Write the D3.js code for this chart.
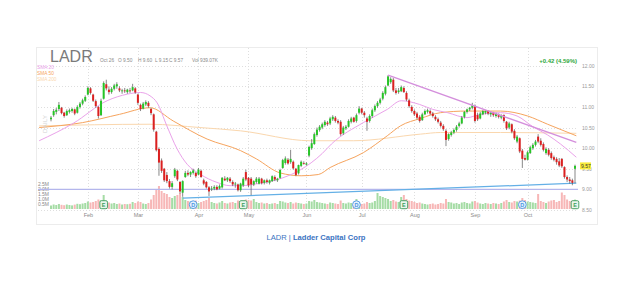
<!DOCTYPE html>
<html>
<head>
<meta charset="utf-8">
<script src="https://cdn.jsdelivr.net/npm/d3@7"></script>
<style>
  body { margin: 0; background: #fff; }
  svg text { font-family: Arial, "Liberation Sans", sans-serif; }
</style>
</head>
<body>
<div id="chart"></div>
<script>

// daily candles, [open, high, low, close], one row per trading day
var ohlc = [
	// Jan
	[10.70,10.78,10.65,10.74],[10.80,10.95,10.76,10.90],[10.88,10.98,10.82,10.93],[10.95,11.12,10.90,11.05],
	[10.98,11.00,10.82,10.85],[10.86,10.88,10.74,10.78],[10.80,10.94,10.78,10.90],[10.88,10.96,10.84,10.92],
	[10.90,10.98,10.86,10.95],[10.94,10.96,10.80,10.84],[10.86,11.04,10.84,11.00],[11.00,11.12,10.96,11.08],
	[11.08,11.20,11.04,11.16],[11.15,11.28,11.12,11.24],
	// Feb
	[11.30,11.50,11.28,11.46],[11.45,11.48,11.30,11.34],[11.30,11.32,11.12,11.15],[11.14,11.18,10.98,11.02],
	[11.00,11.02,10.72,10.78],[10.80,11.20,10.78,11.15],[11.20,11.62,11.18,11.58],[11.55,11.66,11.40,11.45],
	[11.42,11.50,11.30,11.36],[11.36,11.48,11.32,11.44],[11.44,11.56,11.40,11.52],[11.50,11.60,11.44,11.55],
	[11.45,11.50,11.36,11.40],[11.38,11.44,11.32,11.40],[11.40,11.46,11.34,11.38],[11.36,11.44,11.32,11.42],
	[11.40,11.46,11.34,11.38],[11.40,11.56,11.38,11.48],[11.45,11.48,11.32,11.35],
	// Mar
	[11.30,11.32,11.05,11.10],[11.05,11.08,10.90,10.95],[10.96,11.12,10.94,11.08],[11.06,11.16,11.02,11.12],
	[11.10,11.14,10.98,11.02],[10.95,10.98,10.80,10.85],[10.82,10.84,10.40,10.45],[10.40,10.42,9.92,9.95],
	[9.98,10.02,9.33,9.65],[9.70,9.75,9.40,9.45],[9.50,9.52,9.18,9.22],[9.35,9.42,9.15,9.20],
	[9.20,9.25,9.02,9.06],[9.06,9.20,9.00,9.15],[9.32,9.52,9.28,9.48],[9.45,9.48,9.20,9.24],
	[9.18,9.20,8.90,8.95],[8.92,9.22,8.82,9.20],[9.30,9.45,9.28,9.40],[9.40,9.46,9.32,9.36],
	[9.36,9.44,9.30,9.42],[9.40,9.50,9.36,9.46],[9.40,9.42,9.28,9.32],
	// Apr
	[9.36,9.52,9.34,9.48],[9.45,9.48,9.28,9.30],[9.22,9.26,9.10,9.14],[9.18,9.20,9.02,9.05],
	[9.05,9.08,8.84,8.95],[9.00,9.08,8.96,9.02],[9.02,9.10,8.98,9.06],[9.06,9.10,8.98,9.00],
	[9.02,9.12,9.00,9.08],[9.05,9.30,9.02,9.28],[9.26,9.32,9.20,9.22],[9.22,9.30,9.18,9.28],
	[9.26,9.30,9.16,9.20],[9.18,9.22,9.08,9.12],[9.12,9.18,9.04,9.14],[9.12,9.14,8.95,8.98],
	[8.98,9.16,8.94,9.14],[9.10,9.30,9.06,9.26],[9.42,9.48,9.20,9.24],
	// May
	[9.28,9.30,9.05,9.10],[9.26,9.30,8.86,9.12],[9.12,9.22,9.08,9.20],[9.18,9.30,9.14,9.26],
	[9.14,9.30,9.12,9.26],[9.26,9.28,9.12,9.15],[9.16,9.24,9.12,9.22],[9.22,9.26,9.14,9.18],
	[9.16,9.24,9.12,9.22],[9.20,9.34,9.18,9.32],[9.30,9.34,9.20,9.24],[9.22,9.28,9.18,9.26],
	[9.28,9.50,9.26,9.47],[9.52,9.74,9.50,9.71],[9.64,9.80,9.60,9.75],[9.72,9.76,9.60,9.63],
	[9.66,9.96,9.62,9.74],[9.67,9.70,9.48,9.51],[9.50,9.52,9.32,9.35],[9.39,9.60,9.36,9.59],
	[9.57,9.70,9.54,9.67],[9.64,9.68,9.60,9.63],
	// Jun
	[9.60,9.66,9.58,9.63],[9.82,10.06,9.78,10.03],[10.00,10.22,9.96,10.12],[10.10,10.38,10.08,10.34],
	[10.32,10.50,10.28,10.45],[10.44,10.56,10.40,10.52],[10.50,10.62,10.46,10.58],[10.56,10.68,10.52,10.64],
	[10.62,10.66,10.54,10.58],[10.60,10.76,10.56,10.72],[10.70,10.80,10.66,10.76],[10.74,10.78,10.62,10.66],
	[10.66,10.70,10.58,10.62],[10.64,10.68,10.30,10.34],[10.36,10.54,10.32,10.50],[10.48,10.56,10.44,10.52],
	[10.52,10.70,10.50,10.66],[10.64,10.76,10.60,10.72],[10.74,10.76,10.62,10.64],[10.66,10.84,10.62,10.80],
	[10.86,11.02,10.82,10.96],
	// Jul
	[10.96,10.98,10.82,10.86],[10.86,10.90,10.74,10.80],[10.72,10.76,10.42,10.64],[10.66,10.82,10.62,10.78],
	[10.78,10.96,10.74,10.92],[10.92,11.06,10.88,11.02],[11.02,11.14,10.98,11.10],[11.10,11.22,11.06,11.18],
	[11.20,11.38,11.16,11.34],[11.32,11.52,11.28,11.48],[11.52,11.77,11.50,11.74],[11.60,11.72,11.56,11.68],
	[11.66,11.70,11.36,11.40],[11.40,11.46,11.30,11.34],[11.36,11.46,11.32,11.40],[11.38,11.52,11.36,11.48],
	[11.46,11.50,11.34,11.36],[11.34,11.38,11.14,11.18],[11.16,11.20,10.98,11.02],[11.00,11.04,10.86,10.90],
	// Aug
	[10.90,10.94,10.78,10.82],[10.84,10.88,10.70,10.74],[10.76,10.80,10.62,10.66],[10.68,10.86,10.66,10.82],
	[10.82,10.94,10.80,10.90],[10.88,10.96,10.84,10.92],[10.90,10.94,10.80,10.84],[10.84,10.88,10.74,10.78],
	[10.76,10.80,10.66,10.70],[10.70,10.74,10.60,10.64],[10.62,10.66,10.50,10.54],[10.54,10.58,10.42,10.46],
	[10.42,10.46,10.05,10.20],[10.22,10.36,10.18,10.34],[10.32,10.42,10.28,10.38],[10.38,10.48,10.34,10.44],
	[10.44,10.56,10.40,10.52],[10.54,10.64,10.50,10.60],[10.60,10.78,10.58,10.74],[10.76,10.90,10.72,10.88],
	[10.88,10.96,10.84,10.94],[10.94,11.00,10.90,10.98],[10.98,11.10,10.94,11.04],
	// Sep
	[11.02,11.06,10.62,10.66],[10.80,10.86,10.66,10.70],[10.72,10.88,10.70,10.84],[10.82,10.92,10.80,10.90],
	[10.86,10.92,10.82,10.90],[10.90,10.92,10.80,10.84],[10.82,10.88,10.76,10.86],[10.86,10.88,10.76,10.80],
	[10.78,10.86,10.74,10.84],[10.82,10.84,10.72,10.76],[10.74,10.82,10.70,10.80],[10.80,10.82,10.62,10.66],
	[10.64,10.66,10.44,10.48],[10.50,10.64,10.46,10.60],[10.58,10.60,10.36,10.40],[10.42,10.46,10.20,10.24],
	[10.16,10.32,10.12,10.28],[10.24,10.26,9.88,9.92],[9.94,9.98,9.52,9.74],[9.76,9.84,9.70,9.72],
	// Oct
	[9.72,9.94,9.70,9.90],[9.88,10.06,9.86,10.02],[10.00,10.12,9.96,10.08],[10.08,10.20,10.04,10.16],
	[10.28,10.34,10.12,10.16],[10.18,10.24,10.04,10.08],[10.10,10.14,9.92,9.96],[9.88,10.02,9.84,9.98],
	[9.96,10.00,9.80,9.84],[9.88,9.92,9.72,9.76],[9.78,9.82,9.68,9.72],[9.74,9.78,9.60,9.66],
	[9.68,9.76,9.54,9.58],[9.74,9.76,9.52,9.56],[9.54,9.56,9.26,9.30],[9.30,9.34,9.18,9.24],
	[9.24,9.30,9.14,9.20],[9.22,9.26,9.10,9.16],[9.50,9.60,9.15,9.57]
];

// daily volume, millions of shares
var volumes = [
	0.35,0.45,0.40,0.50,0.42,0.38,0.45,0.40,0.36,0.44,0.52,0.48,0.55,0.60,
	0.75,0.65,0.70,0.80,0.95,0.85,1.40,0.80,0.65,0.55,0.60,0.50,0.55,0.45,0.50,0.48,0.52,0.70,0.60,
	0.75,0.70,0.55,0.50,0.60,0.95,1.40,2.00,2.30,1.80,1.60,1.50,1.20,1.10,1.30,1.40,1.60,1.20,0.90,0.80,0.75,0.70,0.85,
	0.60,0.70,0.80,0.90,1.10,0.70,0.60,0.55,0.65,0.80,0.60,0.55,0.65,0.70,0.60,0.85,0.75,0.70,0.95,
	0.90,0.85,1.00,0.70,0.60,0.65,0.55,0.60,0.50,0.55,0.60,0.50,0.80,0.75,0.65,0.60,0.70,0.55,0.65,0.60,0.55,0.50,
	0.55,0.80,0.75,0.90,0.70,0.65,0.60,0.55,0.50,0.65,0.60,0.55,0.50,0.85,0.60,0.55,0.65,0.60,0.55,1.00,0.70,
	0.50,0.55,0.70,0.60,0.65,0.80,1.60,1.30,1.20,1.10,1.00,0.80,0.90,0.75,0.70,1.20,1.40,1.00,0.85,0.80,
	0.70,0.60,0.65,0.55,0.50,0.45,0.50,0.55,0.45,0.50,0.60,0.55,1.00,0.70,0.65,0.55,0.60,0.50,0.65,0.70,0.60,0.55,0.75,
	0.80,0.65,0.55,0.50,0.60,0.55,0.50,0.60,0.55,0.50,0.60,0.75,0.90,0.70,0.65,0.80,0.75,0.85,1.10,0.90,
	0.75,0.70,0.65,0.60,1.50,0.80,0.70,0.60,0.75,0.85,0.90,0.70,0.80,1.65,1.40,0.95,0.80,0.85,0.94
];

// moving averages, [day, price]
var sma20 = [[-4.5,10.18],[8.4,10.60],[21.3,11.15],[29,11.31],[34,11.35],[37.6,11.27],[40.3,11.10],
	[44,10.54],[47.9,9.98],[51.7,9.61],[56.6,9.37],[63,9.17],[68,9.09],[72,9.09],[79.5,9.15],[88,9.28],
	[94.6,9.47],[103,9.87],[106.5,10.10],[118.6,10.62],[127.7,10.94],[133,11.15],[140,11.06],[145,10.94],
	[150.6,10.86],[158,10.74],[163,10.82],[170.7,10.86],[177,10.78],[183,10.52],[188.6,10.32],[193.5,10.10],[199.5,9.78]];
var sma50 = [[-4.5,10.50],[12,10.62],[26,10.82],[37.6,10.98],[46.4,10.66],[59.3,10.22],[72,9.94],[78,9.74],
	[87,9.40],[95,9.33],[101.5,9.36],[106,9.53],[118.6,9.89],[127.7,10.30],[132.7,10.54],[140.3,10.72],
	[147.9,10.86],[158,10.90],[170.7,10.90],[181,10.78],[188.6,10.58],[199.5,10.30]];
var sma200 = [[-4.5,10.54],[37.6,10.58],[56.6,10.50],[72,10.42],[98.4,10.18],[114.8,10.18],[140.3,10.34],
	[147.9,10.38],[170.7,10.38],[199.5,10.36]];

// drawn lines
var trendDown = [[128,11.77],[199.5,10.14]];
var trendUp = [[50,8.79],[199.5,9.15]];
var supportLevel = 9.00;

// axes
var monthLabels = ['Feb','Mar','Apr','May','Jun','Jul','Aug','Sep','Oct'];
var monthStarts = [14,33,56,75,97,118,138,161,181];
var priceTicks = [12.00,11.50,11.00,10.50,10.00,9.50,9.00,8.50];
var volumeTicks = [0.5,1.0,1.5,2.0,2.5];

// events
var earningsDays = [20,73,134,199];
var dividendDays = [54,116,179];

// header text
var ticker = 'LADR';
var companyName = 'Ladder Capital Corp';
var quoteInfo = ['Oct 26','O 9.50','H 9.60','L 9.15','C 9.57','Vol 939.07K'];
var changeText = '+0.42 (4.59%)';
var lastPrice = 9.57;
var smaNames = ['SMA 20','SMA 50','SMA 200'];

// --------------------------------------------------------

var chart_width = 640;
var chart_height = 281;
var plot_left = 38, plot_right = 578, plot_top = 48, plot_bottom = 210;

var svg = d3.select('#chart')
	.append('svg')
	.attr('width', chart_width)
	.attr('height', chart_height);

var x_scale = d3.scaleLinear().domain([0, ohlc.length - 1]).range([51, 575]);
var y_scale = d3.scaleLinear().domain([8.5, 12]).range([210, 65.7]);
var v_scale = d3.scaleLinear().domain([0, 2.5]).range([209, 184]);

var smaColors = ['#eaa2ea', '#f6a45e', '#fad7ae'];
var upColor = '#26c526', downColor = '#dc2020';

// card frame
svg.append('rect')
	.attr('x', 36.5).attr('y', 47.5)
	.attr('width', 561).attr('height', 177)
	.attr('fill', 'none')
	.attr('stroke', '#ececec');

// --------------------------------------------------------
// grid
svg.append('g')
	.selectAll('line')
	.data(priceTicks)
	.enter()
	.append('line')
	.attr('x1', plot_left).attr('x2', plot_right)
	.attr('y1', (d) => Math.round(y_scale(d)) + 0.5)
	.attr('y2', (d) => Math.round(y_scale(d)) + 0.5)
	.attr('stroke', '#dedede')
	.attr('stroke-dasharray', '1,2');

svg.append('g')
	.selectAll('line')
	.data(monthStarts)
	.enter()
	.append('line')
	.attr('x1', (d) => Math.round(x_scale(d)) + 0.5)
	.attr('x2', (d) => Math.round(x_scale(d)) + 0.5)
	.attr('y1', plot_top).attr('y2', plot_bottom)
	.attr('stroke', '#dedede')
	.attr('stroke-dasharray', '1,2');

// --------------------------------------------------------
// axes
var y_axis = d3.axisRight(y_scale)
	.tickValues(priceTicks)
	.tickFormat(d3.format('.2f'))
	.tickSize(0)
	.tickPadding(0);

svg.append('g')
	.attr('transform', 'translate(582,0)')
	.call(y_axis)
	.call((g) => g.select('.domain').remove())
	.selectAll('text')
	.attr('font-size', 5)
	.attr('fill', '#9a9a9a');

var x_axis = d3.axisBottom(x_scale)
	.tickValues(monthStarts)
	.tickFormat((d, i) => monthLabels[i])
	.tickSize(0)
	.tickPadding(0);

svg.append('g')
	.attr('transform', 'translate(0,213)')
	.call(x_axis)
	.call((g) => g.select('.domain').remove())
	.selectAll('text')
	.attr('font-size', 5.5)
	.attr('fill', '#8a8a8a');

var v_axis = d3.axisLeft(v_scale)
	.tickValues(volumeTicks)
	.tickFormat((d) => d.toFixed(1) + 'M')
	.tickSize(0)
	.tickPadding(0);

svg.append('g')
	.attr('transform', 'translate(49,0)')
	.call(v_axis)
	.call((g) => g.select('.domain').remove())
	.selectAll('text')
	.attr('font-size', 5)
	.attr('fill', '#8a8a8a');

// --------------------------------------------------------
// volume bars
svg.append('g')
	.selectAll('rect')
	.data(volumes)
	.enter()
	.append('rect')
	.attr('x', (d, i) => x_scale(i) - 1)
	.attr('width', 2)
	.attr('y', (d) => v_scale(d))
	.attr('height', (d) => v_scale(0) - v_scale(d))
	.attr('fill', (d, i) => ohlc[i][3] >= ohlc[i][0] ? '#a5dca5' : '#f7b7b7');

// --------------------------------------------------------
// moving averages
var line = d3.line()
	.x((d) => x_scale(d[0]))
	.y((d) => y_scale(d[1]))
	.curve(d3.curveMonotoneX);

[sma200, sma50, sma20].forEach((s, k) => {
	svg.append('path')
		.datum(s)
		.attr('d', line)
		.attr('fill', 'none')
		.attr('stroke', smaColors[2 - k])
		.attr('stroke-width', 1);
});

// support level and rising trend line
svg.append('line')
	.attr('x1', plot_left).attr('x2', plot_right)
	.attr('y1', y_scale(supportLevel)).attr('y2', y_scale(supportLevel))
	.attr('stroke', '#b4b6ec')
	.attr('stroke-width', 1.3);

svg.append('path')
	.datum(trendUp)
	.attr('d', d3.line().x((d) => x_scale(d[0])).y((d) => y_scale(d[1])))
	.attr('stroke', '#64b0e6')
	.attr('stroke-width', 1.3)
	.attr('fill', 'none');

// --------------------------------------------------------
// candles
var candles = svg.append('g')
	.selectAll('g')
	.data(ohlc)
	.enter()
	.append('g');

candles.append('line')
	.attr('x1', (d, i) => x_scale(i))
	.attr('x2', (d, i) => x_scale(i))
	.attr('y1', (d) => y_scale(d[1]))
	.attr('y2', (d) => y_scale(d[2]))
	.attr('stroke', '#555')
	.attr('stroke-width', 0.7);

candles.append('rect')
	.attr('x', (d, i) => x_scale(i) - 1)
	.attr('width', 2)
	.attr('y', (d) => y_scale(Math.max(d[0], d[3])))
	.attr('height', (d) => Math.max(0.8, Math.abs(y_scale(d[0]) - y_scale(d[3]))))
	.attr('fill', (d) => d[3] >= d[0] ? upColor : downColor);

// falling trend line on top
svg.append('path')
	.datum(trendDown)
	.attr('d', d3.line().x((d) => x_scale(d[0])).y((d) => y_scale(d[1])))
	.attr('stroke', '#d48fdc')
	.attr('stroke-width', 1.4)
	.attr('fill', 'none');

// --------------------------------------------------------
// earnings and dividend markers
var iconY = 204.7;

var earn = svg.append('g')
	.selectAll('g')
	.data(earningsDays)
	.enter()
	.append('g')
	.attr('transform', (d) => 'translate(' + x_scale(d) + ',' + iconY + ')');
earn.append('rect')
	.attr('x', -3.8).attr('y', -4).attr('width', 7.6).attr('height', 8)
	.attr('rx', 1.5)
	.attr('fill', '#e9f6ec')
	.attr('stroke', '#3c9c5c')
	.attr('stroke-width', 0.9);
earn.append('text')
	.attr('text-anchor', 'middle')
	.attr('y', 2)
	.attr('font-size', 5.5)
	.attr('font-weight', 'bold')
	.attr('fill', '#3c9c5c')
	.text('E');

var divs = svg.append('g')
	.selectAll('g')
	.data(dividendDays)
	.enter()
	.append('g')
	.attr('transform', (d) => 'translate(' + x_scale(d) + ',' + iconY + ')');
divs.append('circle')
	.attr('r', 3.9)
	.attr('fill', '#e6f1fc')
	.attr('stroke', '#4a95e2')
	.attr('stroke-width', 0.9);
divs.append('text')
	.attr('text-anchor', 'middle')
	.attr('y', 2)
	.attr('font-size', 5.5)
	.attr('font-weight', 'bold')
	.attr('fill', '#4a95e2')
	.text('D');

// --------------------------------------------------------
// last price tag (covers the 9.50 axis label, as in the original)
svg.append('rect')
	.attr('x', 580).attr('y', y_scale(lastPrice) - 3.5)
	.attr('width', 11).attr('height', 7)
	.attr('fill', '#f8ec3c');
svg.append('text')
	.attr('x', 581).attr('y', y_scale(lastPrice) + 1.8)
	.attr('font-size', 5)
	.attr('fill', '#333')
	.text(lastPrice.toFixed(2));

// --------------------------------------------------------
// header
svg.append('text')
	.attr('x', 50).attr('y', 62)
	.attr('font-size', 16)
	.attr('fill', '#7a7a7a')
	.text(ticker);

var infoX = [100, 118, 138, 155, 169, 192];
svg.append('g')
	.selectAll('text')
	.data(quoteInfo)
	.enter()
	.append('text')
	.attr('x', (d, i) => infoX[i])
	.attr('y', 61.5)
	.attr('font-size', 4.8)
	.attr('fill', '#8a8a8a')
	.text((d) => d);

svg.append('text')
	.attr('x', 577).attr('y', 63)
	.attr('text-anchor', 'end')
	.attr('font-size', 6)
	.attr('font-weight', 'bold')
	.attr('fill', '#2ea83a')
	.text(changeText);

svg.append('g')
	.selectAll('text')
	.data(smaNames)
	.enter()
	.append('text')
	.attr('x', 37)
	.attr('y', (d, i) => 69 + i * 5.8)
	.attr('font-size', 4.8)
	.attr('fill', (d, i) => smaColors[i])
	.text((d) => d);

svg.append('text')
	.attr('transform', 'translate(47,133) rotate(-90)')
	.attr('font-size', 6)
	.attr('fill', '#d2d2d2')
	.attr('letter-spacing', 0.3)
	.text('DAILY');

// title below chart
var title = svg.append('text')
	.attr('x', 316).attr('y', 240)
	.attr('text-anchor', 'middle')
	.attr('font-size', 7.6)
	.attr('fill', '#3b74c2');
title.append('tspan').text(ticker + ' | ');
title.append('tspan').attr('font-weight', 'bold').text(companyName);

</script>
</body>
</html>
